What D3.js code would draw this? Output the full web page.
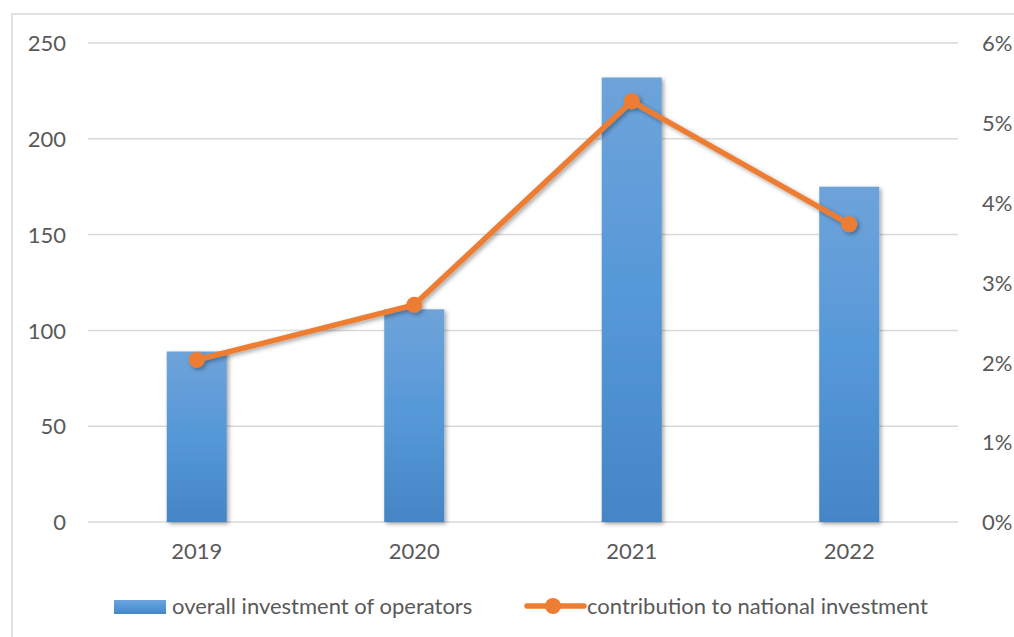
<!DOCTYPE html>
<html>
<head>
<meta charset="utf-8">
<script src="https://cdn.jsdelivr.net/npm/d3@7"></script>
<style>
  html, body { margin: 0; padding: 0; background: #fff; }
  svg { display: block; }
  text { font-family: Lato, "Open Sans", sans-serif; fill: #595959; }
</style>
</head>
<body>
<svg id="chart" width="1014" height="637"></svg>
<script>
// Years on the category axis
const years = ["2019", "2020", "2021", "2022"];
// Overall investment of operators (left axis)
const investment = [89, 111, 232, 175];
// Contribution to national investment, percent (right axis)
const contribution = [2.03, 2.72, 5.27, 3.73];
// Tick values
const leftTicks = [0, 50, 100, 150, 200, 250];
const rightTicks = [0, 1, 2, 3, 4, 5, 6];
const seriesNames = ["overall investment of operators", "contribution to national investment"];

const svg = d3.select("#chart");
const W = 1014, H = 637;
const plot = { left: 88, right: 958, top: 43, bottom: 522 };
const FS = 22;

const defs = svg.append("defs");
const grad = defs.append("linearGradient").attr("id", "barGrad")
  .attr("x1", 0).attr("y1", 0).attr("x2", 0).attr("y2", 1);
grad.append("stop").attr("offset", "0%").attr("stop-color", "#6ea3da");
grad.append("stop").attr("offset", "50%").attr("stop-color", "#5598d8");
grad.append("stop").attr("offset", "100%").attr("stop-color", "#4585c6");

const shadow = defs.append("filter").attr("id", "shadow")
  .attr("x", "-20%").attr("y", "-20%").attr("width", "140%").attr("height", "140%");
shadow.append("feDropShadow").attr("dx", 2).attr("dy", 2).attr("stdDeviation", 2)
  .attr("flood-color", "#000").attr("flood-opacity", 0.35);

// chart frame
svg.append("rect").attr("x", 12).attr("y", 14).attr("width", W).attr("height", H)
  .attr("fill", "#fff").attr("stroke", "#d9d9d9").attr("stroke-width", 1.5);

const x = d3.scaleBand().domain(years).range([plot.left, plot.right]).paddingInner(0.724).paddingOuter(0.362);
const yL = d3.scaleLinear().domain([0, 250]).range([plot.bottom, plot.top]);
const yR = d3.scaleLinear().domain([0, 6]).range([plot.bottom, plot.top]);

// gridlines
svg.append("g").selectAll("line").data(leftTicks).join("line")
  .attr("x1", plot.left).attr("x2", plot.right)
  .attr("y1", d => yL(d)).attr("y2", d => yL(d))
  .attr("stroke", "#d9d9d9").attr("stroke-width", 1.5);

// left axis
const axL = svg.append("g").attr("transform", `translate(${plot.left - 22},0)`)
  .call(d3.axisLeft(yL).tickValues(leftTicks).tickSize(0).tickPadding(0));
axL.select(".domain").remove();
axL.selectAll("text").attr("font-size", FS).attr("dy", "0.35em").style("font-family", "Lato, sans-serif").attr("fill", "#595959");

// right axis
const axR = svg.append("g").attr("transform", `translate(${plot.right + 24},0)`)
  .call(d3.axisRight(yR).tickValues(rightTicks).tickSize(0).tickPadding(0).tickFormat(d => d + "%"));
axR.select(".domain").remove();
axR.selectAll("text").attr("font-size", FS).attr("dy", "0.35em").attr("fill", "#595959");

// bottom axis
const axB = svg.append("g").attr("transform", `translate(0,${plot.bottom})`)
  .call(d3.axisBottom(x).tickSize(0).tickPadding(21));
axB.select(".domain").remove();
axB.selectAll("text").attr("font-size", FS).attr("fill", "#595959");

// bars
svg.append("g").selectAll("rect").data(years).join("rect")
  .attr("x", d => x(d)).attr("width", x.bandwidth())
  .attr("y", (d, i) => yL(investment[i]))
  .attr("height", (d, i) => plot.bottom - yL(investment[i]))
  .attr("fill", "url(#barGrad)").attr("filter", "url(#shadow)");

// contribution line
const cx = d => x(d) + x.bandwidth() / 2;
const lineG = svg.append("g").attr("filter", "url(#shadow)");
lineG.append("path")
  .datum(years)
  .attr("d", d3.line().x(d => cx(d)).y((d, i) => yR(contribution[i])))
  .attr("fill", "none").attr("stroke", "#ed7d31").attr("stroke-width", 5.5)
  .attr("stroke-linejoin", "round");
lineG.selectAll("circle").data(years).join("circle")
  .attr("cx", d => cx(d)).attr("cy", (d, i) => yR(contribution[i]))
  .attr("r", 8).attr("fill", "#ed7d31");

// legend
const lg = svg.append("g");
lg.append("rect").attr("x", 114).attr("y", 600).attr("width", 52).attr("height", 14)
  .attr("fill", "url(#barGrad)");
lg.append("text").attr("x", 172).attr("y", 614).attr("font-size", FS).text(seriesNames[0]);
lg.append("line").attr("x1", 527).attr("x2", 584).attr("y1", 606).attr("y2", 606)
  .attr("stroke", "#ed7d31").attr("stroke-width", 5.5).attr("stroke-linecap", "round");
lg.append("circle").attr("cx", 553).attr("cy", 606).attr("r", 8).attr("fill", "#ed7d31");
lg.append("text").attr("x", 587).attr("y", 614).attr("font-size", FS).text(seriesNames[1]);
</script>
</body>
</html>
